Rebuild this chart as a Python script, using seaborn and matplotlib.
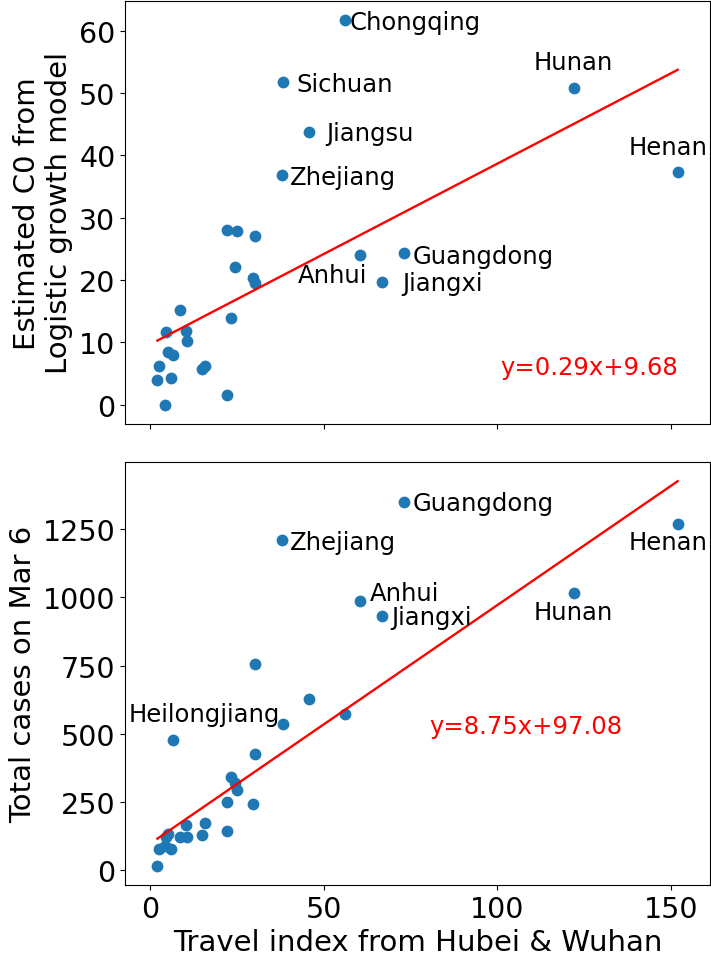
import numpy as np
import pandas as pd
import seaborn as sns
import matplotlib.pyplot as plt

# travel index vs estimated C0 / total cases, one point per province
travel = [56.2, 38.3, 45.8, 37.9, 122.0, 151.9, 73.2, 60.5, 66.7, 6.5,
          30.3, 30.3, 22.2, 22.2, 25.0, 24.4, 29.7, 23.4, 8.6, 4.7,
          10.2, 10.6, 5.0, 2.6, 2.1, 6.0, 4.3, 15.0, 15.8]
c0 = [61.7, 51.7, 43.7, 36.8, 50.8, 37.4, 24.3, 24.0, 19.7, 7.9,
      27.1, 19.5, 28.0, 1.6, 27.8, 22.1, 20.4, 13.9, 15.2, 11.6,
      11.9, 10.3, 8.5, 6.2, 3.9, 4.3, 0.0, 5.8, 6.2]
cases = [574, 536, 627, 1212, 1016, 1268, 1350, 987, 932, 479,
         755, 425, 250, 144, 294, 320, 244, 341, 123, 120,
         166, 123, 132, 78, 16, 78, 90, 129, 172]

# fitted lines (as printed on the chart)
fit_top = (0.29, 9.68)
fit_bot = (8.75, 97.08)

# label text positions (data coords, baseline)
top_names = ["Chongqing", "Sichuan", "Jiangsu", "Zhejiang", "Hunan", "Henan", "Guangdong", "Anhui", "Jiangxi"]
top_tx = [57.5, 42.1, 50.7, 40.3, 110.5, 137.9, 75.6, 42.5, 72.5]
top_ty = [60.3, 50.3, 42.4, 35.4, 53.8, 40.3, 22.8, 19.7, 18.4]
bot_names = ["Guangdong", "Zhejiang", "Henan", "Hunan", "Anhui", "Jiangxi", "Heilongjiang"]
bot_tx = [75.6, 40.3, 137.9, 110.5, 63.4, 69.5, -6.3]
bot_ty = [1319, 1179, 1176, 920, 990, 903, 546]

df = pd.DataFrame({"travel": travel, "c0": c0, "cases": cases})

fig, axes = plt.subplots(2, 1, sharex=True, figsize=(7.11, 9.62), dpi=100)
fig.subplots_adjust(left=0.176, right=0.998, top=0.998, bottom=0.079, hspace=0.09)

xs = np.array([min(travel), max(travel)])

ax = axes[0]
sns.scatterplot(data=df, x="travel", y="c0", ax=ax, color="#1f77b4", s=72, linewidth=0)
ax.plot(xs, fit_top[0] * xs + fit_top[1], color="red", lw=1.7)
for n, tx, ty in zip(top_names, top_tx, top_ty):
    ax.text(tx, ty, n, fontsize=17.5)
ax.text(100.7, 5.0, "y=%.2fx+%.2f" % fit_top, color="red", fontsize=17.5)
ax.set_ylabel("Estimated C0 from\nLogistic growth model", fontsize=21)
ax.set_xlabel("")

ax = axes[1]
sns.scatterplot(data=df, x="travel", y="cases", ax=ax, color="#1f77b4", s=72, linewidth=0)
ax.plot(xs, fit_bot[0] * xs + fit_bot[1], color="red", lw=1.7)
for n, tx, ty in zip(bot_names, bot_tx, bot_ty):
    ax.text(tx, ty, n, fontsize=17.5)
ax.text(80.4, 503, "y=%.2fx+%.2f" % fit_bot, color="red", fontsize=17.5)
ax.set_ylabel("Total cases on Mar 6", fontsize=21)
ax.set_xlabel("Travel index from Hubei & Wuhan", fontsize=21)
ax.set_yticks([0, 250, 500, 750, 1000, 1250])

for a in axes:
    a.tick_params(labelsize=20.5)
axes[0].set_xticks([0, 50, 100, 150])
axes[0].set_xlim(-7.2, 161.1)

plt.savefig("out.png", dpi=100)
